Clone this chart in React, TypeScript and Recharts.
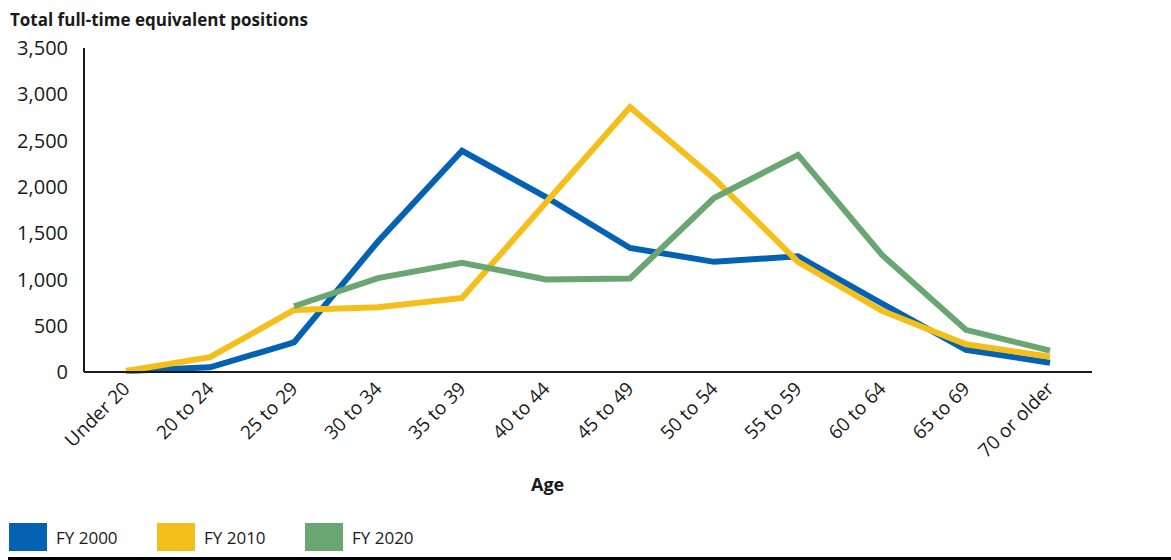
import React from "react";
import { LineChart, Line, XAxis, YAxis } from "recharts";

const categories = [
  "Under 20", "20 to 24", "25 to 29", "30 to 34", "35 to 39", "40 to 44",
  "45 to 49", "50 to 54", "55 to 59", "60 to 64", "65 to 69", "70 or older",
];
const fy2000 = [10, 50, 320, 1410, 2390, 1890, 1340, 1190, 1250, 740, 240, 100];
const fy2010 = [10, 160, 670, 700, 800, 1830, 2860, 2090, 1190, 660, 300, 165];
const fy2020 = [null, null, 710, 1015, 1180, 1000, 1010, 1880, 2345, 1265, 455, 230];
const yTicks = [0, 500, 1000, 1500, 2000, 2500, 3000, 3500];

const seriesInfo = [
  { key: "fy2000", name: "FY 2000", color: "#0562B2" },
  { key: "fy2010", name: "FY 2010", color: "#F4BF1A" },
  { key: "fy2020", name: "FY 2020", color: "#6AA672" },
];

const data = categories.map((c, i) => ({
  age: c,
  fy2000: fy2000[i],
  fy2010: fy2010[i],
  fy2020: fy2020[i],
}));

const FONT = "'Open Sans', sans-serif";
const TEXT = "#1a1a1a";

const XTick = (props: any) => {
  const { x, y, payload } = props;
  const tx = x + 5;
  const ty = y + 18;
  return (
    <text
      x={tx}
      y={ty}
      transform={`rotate(-45, ${tx}, ${ty})`}
      textAnchor="end"
      fontSize={19}
      fontFamily={FONT}
      fill={TEXT}
    >
      {payload.value}
    </text>
  );
};

export default function App() {
  return (
    <div style={{ position: "absolute", left: 0, top: 0, width: 1171, height: 560, background: "#fff", fontFamily: FONT, color: TEXT }}>
      <div style={{ position: "absolute", left: 10, top: 8, fontSize: 17, fontWeight: 700, whiteSpace: "nowrap" }}>
        Total full-time equivalent positions
      </div>
      <LineChart
        width={1171}
        height={560}
        data={data}
        margin={{ top: 48, right: 79, bottom: 68, left: 0 }}
      >
        <XAxis
          dataKey="age"
          height={120}
          padding={{ left: 42, right: 42 }}
          tickLine={false}
          tickSize={0}
          tickMargin={0}
          axisLine={{ stroke: "#1a1a1a", strokeWidth: 2 }}
          tick={<XTick />}
          interval={0}
        />
        <YAxis
          width={84}
          domain={[0, 3500]}
          ticks={yTicks}
          tickLine={false}
          tickSize={0}
          tickMargin={16}
          axisLine={{ stroke: "#1a1a1a", strokeWidth: 2 }}
          tick={{ fontSize: 20, fontFamily: FONT, fill: TEXT }}
          tickFormatter={(v: number) => v.toLocaleString("en-US")}
        />
        {seriesInfo.map((s) => (
          <Line
            key={s.key}
            dataKey={s.key}
            name={s.name}
            stroke={s.color}
            strokeWidth={6}
            dot={false}
            activeDot={false}
            isAnimationActive={false}
            connectNulls={false}
          />
        ))}
      </LineChart>
      <div style={{ position: "absolute", left: 531, top: 472, fontSize: 18, fontWeight: 700 }}>Age</div>
      {seriesInfo.map((s, i) => (
        <div key={s.key} style={{ position: "absolute", left: 9 + i * 148, top: 523, display: "flex", alignItems: "center" }}>
          <div style={{ width: 38, height: 28, background: s.color }} />
          <span style={{ marginLeft: 9, fontSize: 17, whiteSpace: "nowrap" }}>{s.name}</span>
        </div>
      ))}
      <div style={{ position: "absolute", left: 8, top: 557, width: 1163, height: 3, background: "#000" }} />
    </div>
  );
}
